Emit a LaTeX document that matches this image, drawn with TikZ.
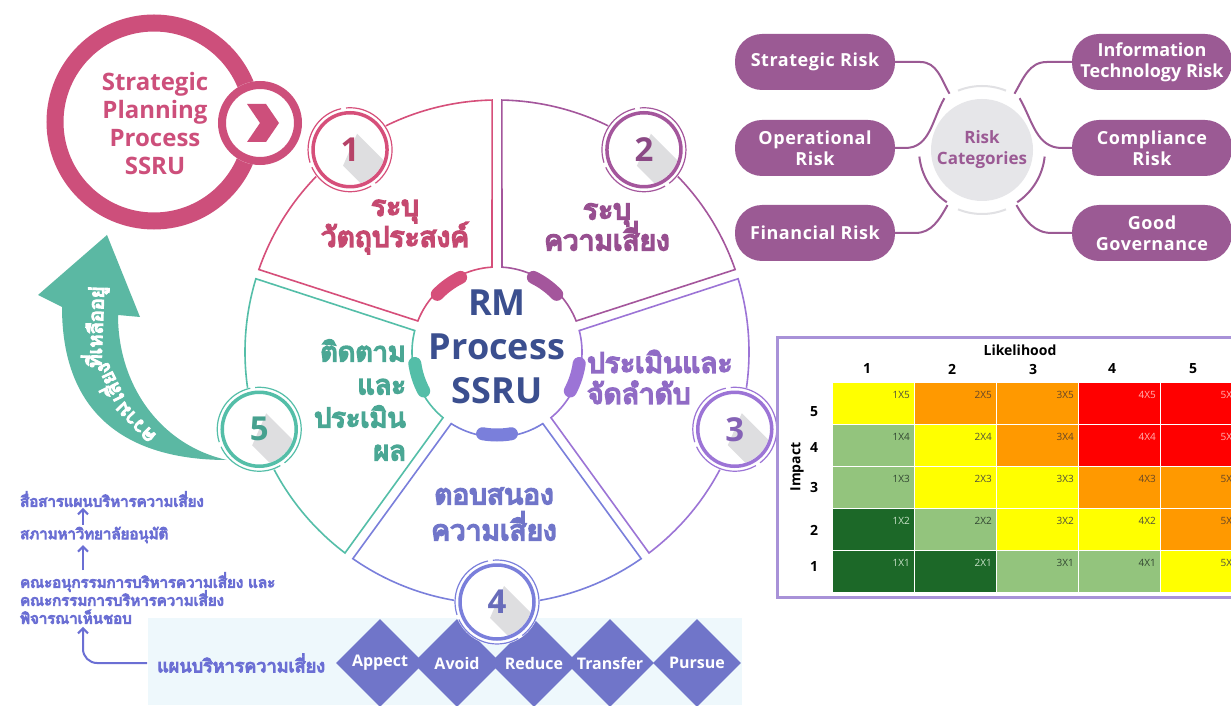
\documentclass[tikz,border=0pt]{standalone}
\usepackage{fontspec}
\setmainfont{Open Sans}
\newfontfamily\thai[Script=Thai, FakeBold=6]{Loma}
\usetikzlibrary{calc,arrows.meta,positioning,shapes.geometric}
\setlength{\lineskiplimit}{-100pt}

\definecolor{sOne}{RGB}{214,79,122}
\definecolor{sTwo}{RGB}{164,86,156}
\definecolor{sThree}{RGB}{156,116,214}
\definecolor{sFour}{RGB}{122,127,219}
\definecolor{sFive}{RGB}{84,190,168}
\definecolor{stratpink}{RGB}{205,79,123}
\definecolor{rmblue}{RGB}{59,79,143}
\definecolor{flowblue}{RGB}{107,111,212}
\definecolor{teala}{RGB}{91,184,163}
\definecolor{riskpurple}{RGB}{155,90,148}
\definecolor{catgray}{RGB}{230,230,233}
\definecolor{ringgray}{RGB}{225,225,228}
\definecolor{bandblue}{RGB}{238,248,252}
\definecolor{shadegray}{RGB}{222,222,224}
\definecolor{boxlav}{RGB}{168,146,216}
\definecolor{mY}{RGB}{255,255,0}
\definecolor{mO}{RGB}{255,153,0}
\definecolor{mR}{RGB}{255,0,0}
\definecolor{mL}{RGB}{147,196,125}
\definecolor{mD}{RGB}{28,104,40}
\definecolor{mYtxt}{RGB}{80,80,60}
\definecolor{mOtxt}{RGB}{100,70,40}
\definecolor{mRtxt}{RGB}{255,180,180}
\definecolor{mLtxt}{RGB}{50,70,50}
\definecolor{mDtxt}{RGB}{200,225,200}

\tikzset{
  sector/.style={line width=1.6pt, fill=white},
  stepnum/.style={font=\bfseries\fontsize{33}{33}\selectfont, inner sep=0pt},
  sectortext/.style={font=\thai\fontsize{28}{31}\selectfont, align=center, inner sep=0pt},
  flowtext/.style={font=\thai\fontsize{15}{18}\selectfont, text=flowblue, anchor=west, inner sep=0pt},
  flowarrow/.style={draw=flowblue, line width=2pt, -{Straight Barb[length=5pt,width=10pt]}},
  diamondnode/.style={diamond, fill=sFour!92!black, minimum width=88pt, minimum height=88pt, inner sep=0pt, text=white, font=\bfseries\fontsize{16}{18}\selectfont},
  riskpill/.style={fill=riskpurple, rounded corners=27pt, minimum width=160pt, minimum height=56pt, inner sep=0pt, text=white, align=center, font=\bfseries\fontsize{18}{21}\selectfont\addfontfeature{LetterSpace=3}},
  link/.style={draw=riskpurple, line width=2pt},
  celltext/.style={font=\fontsize{10}{10}\selectfont, anchor=east, inner sep=0pt},
  axisnum/.style={font=\bfseries\fontsize{14}{14}\selectfont, inner sep=0pt},
  residtext/.style={font=\thai\fontsize{20}{20}\selectfont, text=white, inner sep=0pt}
}

\begin{document}
\begin{tikzpicture}[x=1pt, y=1pt]
\useasboundingbox (0,0) rectangle (1231,705);
\fill[white] (0,0) rectangle (1231,705);

% band of responses
\fill[bandblue] (148,0) rectangle (742,87);
\node[font=\thai\fontsize{18}{20}\selectfont, text=flowblue, anchor=west, inner sep=0pt] (plan) at (157,42) {แผนบริหารความเสี่ยง};
\foreach \x/\t/\nm in {380/Appect/appect, 457/Avoid/avoid, 534/Reduce/reduce, 610/Transfer/transfer, 697/Pursue/pursue}
  \node[diamondnode] (\nm) at (\x,42) {\t};

% approval flow
\node[flowtext] (share) at (20,206) {สื่อสารแผนบริหารความเสี่ยง};
\node[flowtext] (council) at (20,170) {สภามหาวิทยาลัยอนุมัติ};
\node[flowtext, align=left] (review) at (20,107) {คณะอนุกรรมการบริหารความเสี่ยง และ\\คณะกรรมการบริหารความเสี่ยง\\พิจารณาเห็นชอบ};
\coordinate (ax) at (83,0);
\draw[flowarrow] ($(council.north -| ax)+(0,2)$) -- ($(share.south -| ax)+(0,-1)$);
\draw[flowarrow] ($(review.north -| ax)+(0,2)$) -- ($(council.south -| ax)+(0,-2)$);
\draw[flowarrow, rounded corners=14pt] ($(plan.west)+(-10,0)$) -| ($(review.south -| ax)+(0,-3)$);

% wheel
\coordinate (C) at (497,353);
\foreach \a/\col in {90/sOne, 18/sTwo, -54/sThree, -126/sFour, 162/sFive}{
  \pgfmathsetmacro\b{\a+72}
  \draw[sector, draw=\col] ($(C)+(\a+3.4:85)$) -- ($(C)+(\a+1.1:252)$)
    arc[start angle=\a+1.1, end angle=\b-1.1, radius=252]
    -- ($(C)+(\b-3.4:85)$) arc[start angle=\b-3.4, end angle=\a+3.4, radius=85] -- cycle;
}
\foreach \m/\col in {126/sOne, 54/sTwo, -18/sThree, -90/sFour, 198/sFive}
  \draw[\col, line width=13pt, line cap=round] ($(C)+(\m+10:83)$) arc[start angle=\m+10, end angle=\m-10, radius=83];

\node[font=\bfseries\fontsize{36}{44}\selectfont, text=rmblue, align=center, inner sep=0pt] (rm) at (497,358) {RM\\Process\\SSRU};

\node[sectortext, text=sOne!92!black] (identobj) at (395,478) {ระบุ\\วัตถุประสงค์};
\node[sectortext, text=sTwo!92!black] (identrisk) at (607,478) {ระบุ\\ความเสี่ยง};
\node[sectortext, text=sThree!92!black, align=left, anchor=west] (assess) at (587,328) {ประเมินและ\\จัดลำดับ};
\node[sectortext, text=sFour!92!black, font=\thai\fontsize{28}{36}\selectfont] (respond) at (494,191) {ตอบสนอง\\ความเสี่ยง};
\node[sectortext, text=sFive!88!black, align=right, anchor=east, font=\thai\fontsize{27}{33}\selectfont] (monitor) at (406,305) {ติดตาม\\และ\\ประเมิน\\ผล};

% step circles
\foreach \m/\col/\n in {126/sOne/1, 54/sTwo/2, -18/sThree/3, -90/sFour/4, 198/sFive/5}{
  \coordinate (step\n) at ($(C)+(\m:250)$);
  \fill[white] (step\n) circle (43);
  \begin{scope}
    \clip (step\n) circle (35);
    \fill[shadegray] ($(step\n)+(7,16)$) -- ++(60,-60) -- ++(-14,-32) -- ($(step\n)+(-7,-16)$) -- cycle;
  \end{scope}
  \draw[\col, line width=3.5pt] (step\n) circle (37);
  \draw[\col, line width=1.2pt, dash pattern=on 70pt off 5pt] (step\n) circle (42);
  \node[stepnum, text=\col!85!black] (num\n) at (step\n) {\n};
}

% strategic planning
\draw[stratpink, line width=17pt] (154,583) circle (99);
\node[font=\bfseries\fontsize{24}{28}\selectfont, text=stratpink, align=center, inner sep=0pt] (strategic) at (155,581) {Strategic\\Planning\\Process\\SSRU};
\coordinate (chev) at (260,582);
\fill[white] (chev) circle (42);
\draw[stratpink, line width=8pt] (chev) circle (38);
\fill[stratpink] ($(chev)+(-13,19)$) -- ++(19,0) -- ($(chev)+(19,0)$) -- ($(chev)+(6,-19)$) -- ++(-19,0) -- ($(chev)+(0,0)$) -- cycle;

% remaining risk arrow
\fill[teala] (227,245) .. controls (140,245) and (62,280) .. (62,398) -- (38,410) -- (107,470) -- (140,388) -- (118,390) .. controls (118,320) and (160,260) .. (227,245) -- cycle;
\node[residtext, rotate=134] (resid1) at (136,283) {ความ};
\node[residtext, rotate=116] (resid2) at (107,321) {เสี่ยง};
\node[residtext, rotate=88] (resid3) at (95,378) {ที่เหลืออยู่};

% risk categories
\node[circle, fill=catgray, minimum size=102pt, inner sep=0pt, text=riskpurple, align=center, font=\bfseries\fontsize{17}{21}\selectfont] (cat) at (982,555) {Risk\\Categories};
\node[riskpill] (strat) at (815,643) {Strategic Risk};
\node[riskpill] (oper) at (815,557) {Operational\\Risk};
\node[riskpill] (fin) at (815,472) {Financial Risk};
\node[riskpill, font=\bfseries\fontsize{18}{21}\selectfont] (info) at (1152,643) {Information\\Technology Risk};
\node[riskpill] (comp) at (1152,557) {Compliance\\Risk};
\node[riskpill] (gov) at (1152,472) {Good\\Governance};
\draw[ringgray, line width=2pt] ($(cat)+(68:64)$) arc[start angle=68, end angle=112, radius=64];
\draw[ringgray, line width=2pt] ($(cat)+(248:64)$) arc[start angle=248, end angle=292, radius=64];
\draw[link] (strat.east) -- ++(25,0) to[out=0, in=120] ($(cat)+(120:65)$);
\draw[link] (oper.east) -- ++(10,0) to[out=0, in=240] ($(cat)+(126:64)$);
\draw[link] ($(cat)+(186:63)$) arc[start angle=186, end angle=236, radius=63];
\draw[link] (fin.east) -- ++(20,0) to[out=0, in=240] ($(cat)+(238:65)$);
\draw[link] (info.west) -- ++(-25,0) to[out=180, in=60] ($(cat)+(60:65)$);
\draw[link] (comp.west) -- ++(-10,0) to[out=180, in=-60] ($(cat)+(54:64)$);
\draw[link] ($(cat)+(-6:63)$) arc[start angle=-6, end angle=-56, radius=63];
\draw[link] (gov.west) -- ++(-20,0) to[out=180, in=-60] ($(cat)+(-58:65)$);

% risk matrix
\draw[boxlav, line width=3pt] (777,367) rectangle (1250,108);
\node[font=\bfseries\fontsize{14}{14}\selectfont, inner sep=0pt] (likeli) at (1020,355) {Likelihood};
\foreach \n/\x in {1/867, 2/952, 3/1033, 4/1112, 5/1193}
  \node[axisnum] (lk\n) at (\x,336) {\n};
\foreach \n/\y in {5/293, 4/257, 3/218, 2/175, 1/138}
  \node[axisnum] (im\n) at (814,\y) {\n};
\node[font=\bfseries\fontsize{14}{14}\selectfont, rotate=90, inner sep=0pt] (impact) at (797,238) {Impact};
\foreach [count=\ri] \rowcols in {{mY,mO,mO,mR,mR},{mL,mY,mO,mR,mR},{mL,mY,mY,mO,mO},{mD,mL,mY,mY,mO},{mD,mD,mL,mL,mY}}{
  \foreach [count=\ci] \f in \rowcols {
    \pgfmathtruncatemacro\imp{6-\ri}
    \fill[\f, draw=white, line width=0.6pt] (750+82*\ci, 365-42*\ri) rectangle (832+82*\ci, 323-42*\ri);
    \node[celltext, text=\f txt] (cell\ci\imp) at (828+82*\ci, 352-42*\ri) {\ci X\imp};
  }
}
\end{tikzpicture}
\end{document}
